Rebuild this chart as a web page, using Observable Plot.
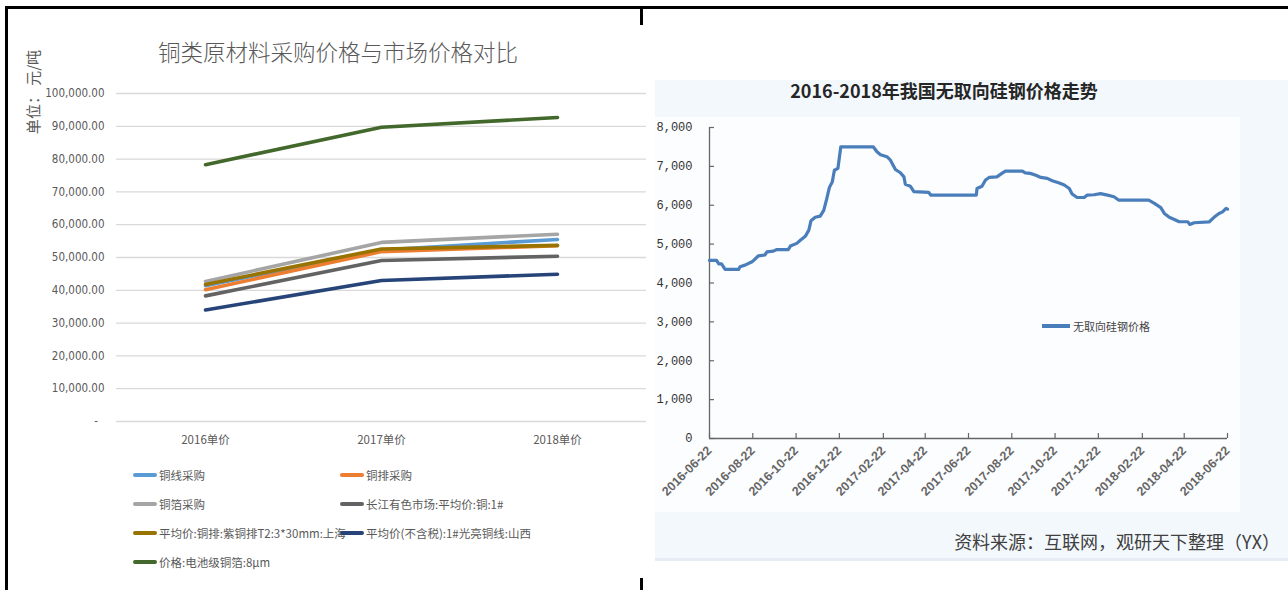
<!DOCTYPE html>
<html><head><meta charset="utf-8">
<script src="https://cdn.jsdelivr.net/npm/d3@7"></script>
<script src="https://cdn.jsdelivr.net/npm/@observablehq/plot@0.6"></script>
<style>
html,body{margin:0;padding:0;background:#fff;}
#root{position:relative;width:1288px;height:590px;overflow:hidden;font-family:"Noto Sans CJK SC","Noto Sans",sans-serif;}
.leg{position:absolute;display:flex;align-items:center;font-size:11.5px;color:#595959;white-space:nowrap;}
.sw{width:24px;height:4px;border-radius:2px;margin-right:2px;}
</style></head><body>
<div id="root"></div>
<script>
// ---------- Left chart data ----------
const years = ["2016单价", "2017单价", "2018单价"];
const seriesNames = ["铜线采购", "铜排采购", "铜箔采购", "长江有色市场:平均价:铜:1#", "平均价:铜排:紫铜排T2:3*30mm:上海", "平均价(不含税):1#光亮铜线:山西", "价格:电池级铜箔:8μm"];
const seriesColors = ["#5b9bd5", "#ed7d31", "#a5a5a5", "#636363", "#997300", "#264478", "#43682b"];
const copperWire = [41400, 52300, 55500];
const copperBar = [40200, 51800, 53600];
const copperFoil = [42700, 54600, 57100];
const changjiang = [38300, 49100, 50400];
const shanghaiBar = [41800, 52600, 53700];
const shanxiWire = [34000, 43000, 44900];
const batteryFoil = [78300, 89700, 92700];
const leftTicks = [0, 10000, 20000, 30000, 40000, 50000, 60000, 70000, 80000, 90000, 100000];

// ---------- Right chart data ----------
const steelDates = ["2016-06-22","2016-07-02","2016-07-05","2016-07-09","2016-07-14","2016-08-02","2016-08-04","2016-08-11","2016-08-21","2016-08-30",
"2016-09-08","2016-09-11","2016-09-20","2016-09-25","2016-10-11","2016-10-14","2016-10-23","2016-10-28","2016-11-04","2016-11-09",
"2016-11-12","2016-11-18","2016-11-25","2016-11-30","2016-12-04","2016-12-08","2016-12-12","2016-12-15","2016-12-20","2016-12-24",
"2017-02-08","2017-02-13","2017-02-18","2017-02-27","2017-03-04","2017-03-11","2017-03-18","2017-03-23","2017-03-25","2017-04-01",
"2017-04-06","2017-04-27","2017-04-30","2017-06-11","2017-07-03","2017-07-04","2017-07-11","2017-07-16","2017-07-21","2017-08-01",
"2017-08-08","2017-08-13","2017-09-06","2017-09-10","2017-09-17","2017-09-25","2017-10-02","2017-10-11","2017-10-18","2017-10-27",
"2017-11-04","2017-11-11","2017-11-15","2017-11-22","2017-12-02","2017-12-06","2017-12-16","2017-12-25","2018-01-04","2018-01-13",
"2018-01-20","2018-03-03","2018-03-11","2018-03-20","2018-03-25","2018-04-01","2018-04-08","2018-04-15","2018-04-27","2018-04-30",
"2018-05-06","2018-05-27","2018-06-03","2018-06-10","2018-06-15","2018-06-20","2018-06-22"];
const steelPrices = [4580,4580,4490,4490,4350,4350,4420,4460,4545,4700,
4720,4800,4820,4860,4860,4950,5020,5100,5200,5360,
5600,5690,5720,5870,6150,6460,6600,6900,6950,7500,
7500,7375,7300,7250,7160,6920,6835,6730,6540,6490,
6350,6330,6260,6260,6260,6430,6490,6650,6715,6730,
6820,6880,6880,6835,6820,6770,6715,6690,6630,6580,
6520,6430,6290,6200,6200,6260,6270,6300,6260,6220,
6130,6130,6050,5940,5790,5690,5635,5575,5575,5505,
5550,5570,5690,5790,5830,5920,5900];
const steelTickLabels = ["2016-06-22","2016-08-22","2016-10-22","2016-12-22","2017-02-22","2017-04-22","2017-06-22","2017-08-22","2017-10-22","2017-12-22","2018-02-22","2018-04-22","2018-06-22"];
const steelYTicks = [0,1000,2000,3000,4000,5000,6000,7000,8000];

const root = document.getElementById("root");
function el(tag, style, text) {
  const e = document.createElement(tag);
  e.setAttribute("style", style);
  if (text != null) e.textContent = text;
  root.appendChild(e);
  return e;
}

// frame decorations
el("div", "position:absolute;left:5px;top:6px;width:1283px;height:3px;background:#000;");
el("div", "position:absolute;left:5px;top:6px;width:2.5px;height:584px;background:#000;");
el("div", "position:absolute;left:640px;top:6px;width:2.5px;height:19px;background:#000;");
el("div", "position:absolute;left:640px;top:578px;width:2.5px;height:12px;background:#000;");

// ---------- Left chart ----------
el("div", "position:absolute;left:138px;width:400px;top:35px;text-align:center;font-size:22.5px;line-height:32px;color:#595959;font-weight:300;", "铜类原材料采购价格与市场价格对比");
el("div", "position:absolute;left:-17px;top:83px;width:100px;text-align:center;font-size:15px;line-height:18px;color:#595959;transform:rotate(-90deg);", "单位： 元/吨");

const seriesValues = [copperWire, copperBar, copperFoil, changjiang, shanghaiBar, shanxiWire, batteryFoil];
const leftRows = seriesNames.flatMap((s, i) => years.map((yr, j) => ({series: s, year: yr, value: seriesValues[i][j]})));

const left = Plot.plot({
  width: 650, height: 380,
  marginLeft: 116, marginRight: 4, marginTop: 13, marginBottom: 39,
  style: {background: "transparent", overflow: "visible"},
  x: {type: "point", domain: years, padding: 0.5},
  y: {domain: [0, 100000]},
  color: {domain: seriesNames, range: seriesColors},
  marks: [
    Plot.ruleY(leftTicks, {stroke: "#d9d9d9", strokeWidth: 1.3}),
    Plot.axisY(leftTicks, {tickSize: 0, tickPadding: 12, label: null,
      tickFormat: d => d === 0 ? "-\u2007" : d3.format(",.2f")(d),
      fontSize: 11.5, fill: "#595959", fontFamily: "'Liberation Sans Narrow','DejaVu Sans Condensed','Liberation Sans',sans-serif"}),
    Plot.axisX({tickSize: 0, tickPadding: 14, label: null, fontSize: 11.5, fill: "#595959",
      fontFamily: "'Noto Sans CJK SC',sans-serif"}),
    Plot.line(leftRows, {x: "year", y: "value", z: "series", stroke: "series", strokeWidth: 3.6, strokeLinecap: "round", strokeLinejoin: "round"})
  ]
});
left.style.position = "absolute";
left.style.left = "0px";
left.style.top = "80px";
root.appendChild(left);

// left legend
const legPos = [[133, 475], [340, 475], [133, 504], [340, 504], [133, 533], [340, 533], [133, 562]];
seriesNames.forEach((s, i) => {
  const d = el("div", `left:${legPos[i][0]}px;top:${legPos[i][1] - 9}px;height:18px;`);
  d.className = "leg";
  const sw = document.createElement("div");
  sw.className = "sw";
  sw.style.background = seriesColors[i];
  d.appendChild(sw);
  const t = document.createElement("span");
  t.textContent = s;
  d.appendChild(t);
});

// ---------- Right chart ----------
el("div", "position:absolute;left:655px;top:80px;width:633px;height:478px;background:#f3f8fd;border-bottom:3px solid #e6edf4;");
el("div", "position:absolute;left:655px;top:117px;width:585px;height:395px;background:#fcfdff;");
el("div", "position:absolute;left:744px;width:400px;top:77px;text-align:center;font-size:18px;line-height:26px;font-weight:bold;color:#262626;font-family:'Noto Sans CJK SC',sans-serif;", "2016-2018年我国无取向硅钢价格走势");
el("div", "position:absolute;right:8px;top:528px;font-size:18px;line-height:26px;color:#404040;font-family:'Noto Sans CJK SC',sans-serif;", "资料来源：互联网，观研天下整理（YX）");

const parse = d3.utcParse("%Y-%m-%d");
const steelRows = steelDates.map((d, i) => ({date: parse(d), price: steelPrices[i]}));
const xTicks = steelTickLabels.map(parse);
const start = xTicks[0], end = xTicks[xTicks.length - 1];
const tickLen = d3.utcDay.offset(start, 7);

const right = Plot.plot({
  width: 600, height: 400,
  marginLeft: 54, marginRight: 28, marginTop: 17, marginBottom: 72,
  style: {background: "transparent", overflow: "visible"},
  x: {type: "utc", domain: [start, end]},
  y: {domain: [0, 8000]},
  marks: [
    Plot.ruleY([0], {stroke: "#666", strokeWidth: 1.3}),
    Plot.ruleX([start], {stroke: "#666", strokeWidth: 1.3}),
    Plot.ruleX(xTicks, {y1: 0, y2: 130, stroke: "#666", strokeWidth: 1.2}),
    Plot.ruleY(steelYTicks, {x1: start, x2: tickLen, stroke: "#666", strokeWidth: 1.2}),
    Plot.axisY(steelYTicks, {tickSize: 0, tickPadding: 17, label: null, tickFormat: d3.format(","),
      fontSize: 12, fill: "#333", fontFamily: "'Liberation Mono',monospace"}),
    Plot.axisX(xTicks, {tickSize: 0, tickPadding: 10, label: null, tickRotate: -45,
      tickFormat: d3.utcFormat("%Y-%m-%d"), fontSize: 12.5, fontWeight: 600, fill: "#666",
      fontFamily: "'Liberation Sans',sans-serif"}),
    Plot.line(steelRows, {x: "date", y: "price", stroke: "#4a7ebb", strokeWidth: 3.2, strokeLinejoin: "round"})
  ]
});
right.style.position = "absolute";
right.style.left = "655px";
right.style.top = "110px";
root.appendChild(right);

// right legend
el("div", "position:absolute;left:1042px;top:324px;width:28px;height:4px;background:#4a7ebb;");
el("div", "position:absolute;left:1073px;top:317px;font-size:11px;line-height:18px;color:#444;font-family:'Noto Sans CJK SC',sans-serif;", "无取向硅钢价格");
</script>
</body></html>
